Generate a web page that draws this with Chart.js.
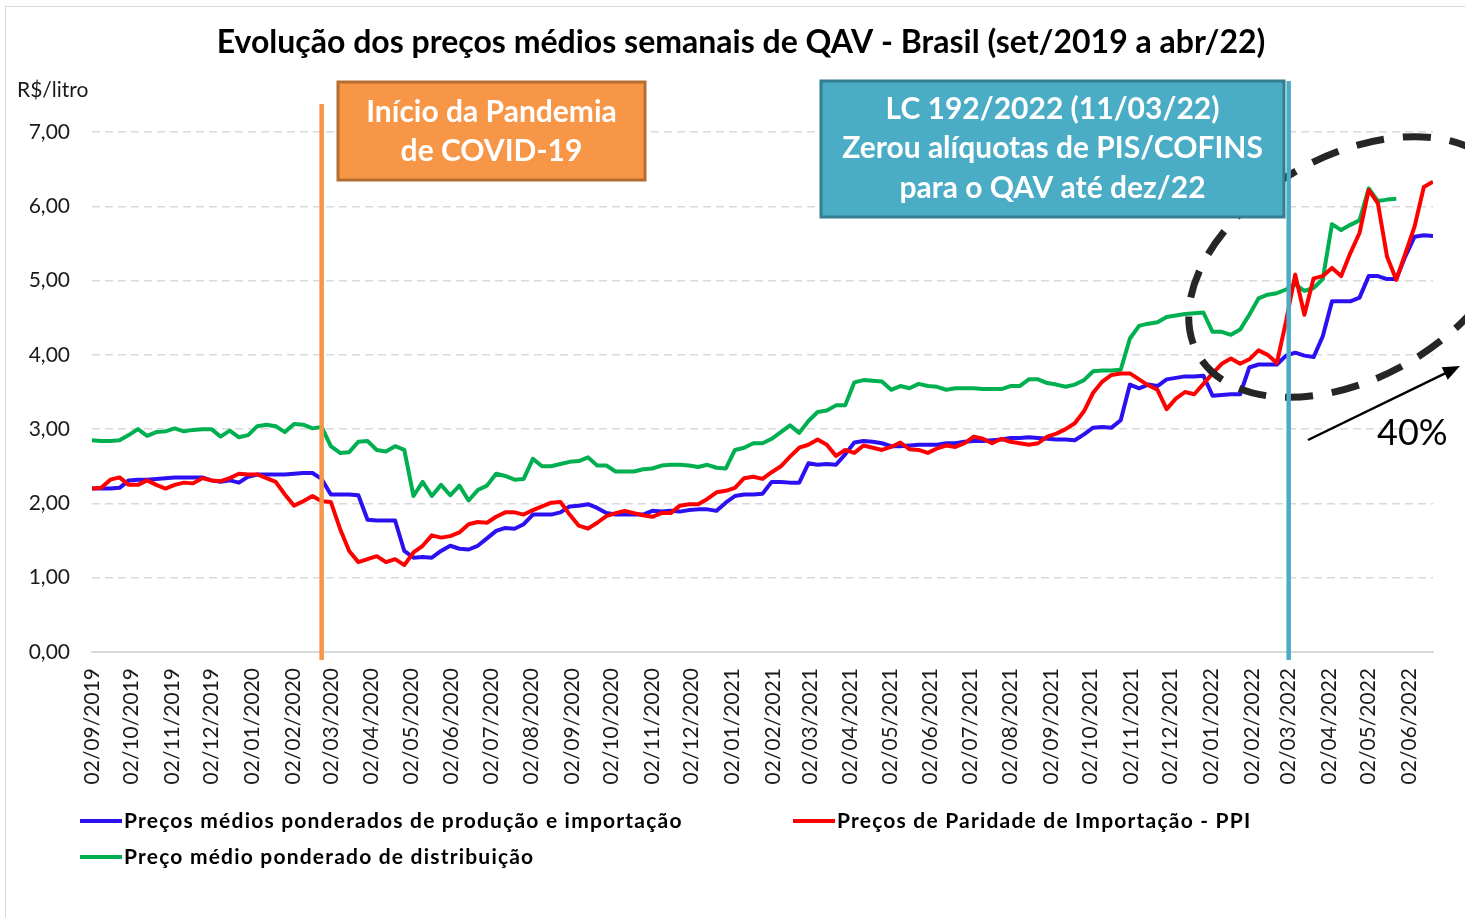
<!DOCTYPE html>
<html lang="pt-BR">
<head>
<meta charset="utf-8">
<title>Evolução dos preços médios semanais de QAV</title>
<script src="https://cdn.jsdelivr.net/npm/chart.js@4.4.0/dist/chart.umd.min.js"></script>
<style>
  html, body { margin: 0; padding: 0; background: #fff; }
  #quadro { position: relative; width: 1465px; height: 918px; }
</style>
</head>
<body>
<div id="quadro"><canvas id="grafico"></canvas></div>
<script>
// Séries semanais de preços do QAV (R$/litro), a partir da semana de 02/09/2019

const inicioSerie = '02/09/2019';

const titulo = 'Evolução dos preços médios semanais de QAV - Brasil (set/2019 a abr/22)';

const nomesSeries = [
    'Preços médios ponderados de produção e importação',
    'Preços de Paridade de Importação - PPI',
    'Preço médio ponderado de distribuição'
];

const precoProducaoImportacao = [
    2.20, 2.20, 2.20, 2.21, 2.31, 2.32, 2.32, 2.33, 2.34, 2.35,
    2.35, 2.35, 2.35, 2.31, 2.29, 2.31, 2.28, 2.36, 2.39, 2.39,
    2.39, 2.39, 2.40, 2.41, 2.41, 2.33, 2.12, 2.12, 2.12, 2.11,
    1.78, 1.77, 1.77, 1.77, 1.36, 1.27, 1.28, 1.27, 1.36, 1.43,
    1.39, 1.38, 1.43, 1.53, 1.63, 1.67, 1.66, 1.72, 1.85, 1.85,
    1.85, 1.88, 1.96, 1.97, 1.99, 1.94, 1.87, 1.85, 1.85, 1.85,
    1.85, 1.90, 1.89, 1.90, 1.89, 1.91, 1.92, 1.92, 1.90, 2.01,
    2.10, 2.12, 2.12, 2.13, 2.29, 2.29, 2.28, 2.28, 2.54, 2.52,
    2.53, 2.52, 2.66, 2.82, 2.84, 2.83, 2.81, 2.77, 2.77, 2.78,
    2.79, 2.79, 2.79, 2.81, 2.81, 2.83, 2.84, 2.84, 2.85, 2.86,
    2.88, 2.88, 2.89, 2.88, 2.87, 2.86, 2.86, 2.85, 2.93, 3.02,
    3.03, 3.02, 3.12, 3.60, 3.55, 3.60, 3.58, 3.67, 3.69, 3.71,
    3.71, 3.72, 3.45, 3.46, 3.47, 3.47, 3.83, 3.87, 3.87, 3.87,
    3.99, 4.03, 3.99, 3.97, 4.25, 4.72, 4.72, 4.72, 4.77, 5.06,
    5.06, 5.02, 5.02, 5.33, 5.59, 5.61, 5.60
];

const precoPPI = [
    2.20, 2.21, 2.32, 2.35, 2.25, 2.25, 2.31, 2.25, 2.20, 2.25,
    2.28, 2.27, 2.34, 2.31, 2.30, 2.34, 2.40, 2.39, 2.39, 2.34,
    2.29, 2.12, 1.97, 2.03, 2.10, 2.03, 2.02, 1.66, 1.36, 1.21,
    1.25, 1.29, 1.21, 1.25, 1.17, 1.34, 1.43, 1.57, 1.54, 1.56,
    1.61, 1.72, 1.75, 1.74, 1.82, 1.88, 1.88, 1.85, 1.91, 1.96,
    2.01, 2.02, 1.85, 1.70, 1.66, 1.74, 1.83, 1.87, 1.90, 1.87,
    1.84, 1.82, 1.87, 1.87, 1.97, 1.99, 1.99, 2.06, 2.15, 2.17,
    2.21, 2.34, 2.36, 2.33, 2.42, 2.50, 2.63, 2.75, 2.79, 2.86,
    2.79, 2.64, 2.72, 2.68, 2.78, 2.75, 2.72, 2.76, 2.82, 2.73,
    2.72, 2.68, 2.74, 2.78, 2.76, 2.81, 2.90, 2.87, 2.81, 2.87,
    2.83, 2.81, 2.79, 2.81, 2.90, 2.94, 3.00, 3.08, 3.24, 3.49,
    3.64, 3.73, 3.75, 3.75, 3.67, 3.59, 3.53, 3.27, 3.41, 3.50,
    3.47, 3.61, 3.75, 3.88, 3.95, 3.88, 3.94, 4.06, 4.00, 3.89,
    4.45, 5.08, 4.54, 5.03, 5.06, 5.17, 5.06, 5.37, 5.64, 6.22,
    6.04, 5.32, 5.01, 5.37, 5.73, 6.26, 6.33
];

const precoDistribuicao = [
    2.85, 2.84, 2.84, 2.85, 2.92, 3.00, 2.91, 2.96, 2.97, 3.01,
    2.97, 2.99, 3.00, 3.00, 2.90, 2.98, 2.89, 2.92, 3.04, 3.06,
    3.04, 2.96, 3.07, 3.06, 3.01, 3.03, 2.77, 2.68, 2.69, 2.83,
    2.84, 2.72, 2.70, 2.77, 2.72, 2.10, 2.29, 2.10, 2.25, 2.11,
    2.24, 2.04, 2.18, 2.24, 2.40, 2.37, 2.32, 2.33, 2.60, 2.50,
    2.50, 2.53, 2.56, 2.57, 2.62, 2.51, 2.51, 2.43, 2.43, 2.43,
    2.46, 2.47, 2.51, 2.52, 2.52, 2.51, 2.49, 2.52, 2.48, 2.47,
    2.72, 2.75, 2.81, 2.81, 2.87, 2.96, 3.05, 2.95, 3.11, 3.23,
    3.25, 3.32, 3.32, 3.63, 3.66, 3.65, 3.64, 3.53, 3.58, 3.55,
    3.61, 3.58, 3.57, 3.53, 3.55, 3.55, 3.55, 3.54, 3.54, 3.54,
    3.58, 3.58, 3.67, 3.67, 3.62, 3.60, 3.57, 3.60, 3.66, 3.78,
    3.79, 3.79, 3.80, 4.22, 4.39, 4.42, 4.44, 4.51, 4.53, 4.55,
    4.56, 4.57, 4.31, 4.31, 4.27, 4.34, 4.54, 4.76, 4.81, 4.83,
    4.88, 4.95, 4.86, 4.90, 5.02, 5.76, 5.68, 5.75, 5.81, 6.24,
    6.07, 6.09, 6.10
];

// Rótulos do eixo X (mensais)
const rotulosEixoX = [
    '02/09/2019', '02/10/2019', '02/11/2019', '02/12/2019',
    '02/01/2020', '02/02/2020', '02/03/2020', '02/04/2020', '02/05/2020', '02/06/2020',
    '02/07/2020', '02/08/2020', '02/09/2020', '02/10/2020', '02/11/2020', '02/12/2020',
    '02/01/2021', '02/02/2021', '02/03/2021', '02/04/2021', '02/05/2021', '02/06/2021',
    '02/07/2021', '02/08/2021', '02/09/2021', '02/10/2021', '02/11/2021', '02/12/2021',
    '02/01/2022', '02/02/2022', '02/03/2022', '02/04/2022', '02/05/2022', '02/06/2022'
];

// Marcos: início da pandemia e LC 192/2022
const marcos = ['24/02/2020', '02/03/2022'];

const fonte = 'Lato, "DejaVu Sans", sans-serif';

// Converte dd/mm/aaaa em número de semanas desde o início da série
function semanas(texto) {
    const [d, m, a] = texto.split('/').map(Number);
    const [d0, m0, a0] = inicioSerie.split('/').map(Number);
    return (Date.UTC(a, m - 1, d) - Date.UTC(a0, m0 - 1, d0)) / (7 * 86400000);
}

function pontos(serie) {
    return serie.map((v, i) => ({ x: i, y: v }));
}

const posicoesEixoX = rotulosEixoX.map(semanas);

// Anotações, título, legenda e moldura desenhados sobre o gráfico
const anotacoes = {
    id: 'anotacoes',
    afterDatasetsDraw(chart) {
        const { ctx, scales: { x } } = chart;
        ctx.save();

        // Elipse tracejada
        ctx.beginPath();
        ctx.ellipse(1352, 267, 177, 111, -0.518, 0, Math.PI * 2);
        ctx.setLineDash([28, 19]);
        ctx.lineWidth = 7;
        ctx.strokeStyle = '#262626';
        ctx.stroke();
        ctx.setLineDash([]);

        // Linhas verticais
        const xPandemia = x.getPixelForValue(semanas(marcos[0]));
        const xLei = x.getPixelForValue(semanas(marcos[1]));
        ctx.lineWidth = 4.5;
        ctx.strokeStyle = '#F79646';
        ctx.beginPath();
        ctx.moveTo(xPandemia, 104);
        ctx.lineTo(xPandemia, 660);
        ctx.stroke();
        ctx.strokeStyle = '#4BACC6';
        ctx.beginPath();
        ctx.moveTo(xLei, 81);
        ctx.lineTo(xLei, 660);
        ctx.stroke();

        // Caixas de texto
        desenharCaixa(ctx, 338, 82, 307, 98, '#F79646', '#B66D31',
            ['Início da Pandemia', 'de COVID-19'], [122, 161]);
        desenharCaixa(ctx, 821, 81, 463, 136, '#4BACC6', '#357D91',
            ['LC 192/2022 (11/03/22)', 'Zerou alíquotas de PIS/COFINS', 'para o QAV até dez/22'],
            [119, 158, 198]);

        // Seta e percentual
        ctx.strokeStyle = '#000';
        ctx.fillStyle = '#000';
        ctx.lineWidth = 2.5;
        const x1 = 1308, y1 = 440, x2 = 1460, y2 = 366;
        const ang = Math.atan2(y2 - y1, x2 - x1);
        ctx.beginPath();
        ctx.moveTo(x1, y1);
        ctx.lineTo(x2 - 12 * Math.cos(ang), y2 - 12 * Math.sin(ang));
        ctx.stroke();
        ctx.beginPath();
        ctx.moveTo(x2, y2);
        ctx.lineTo(x2 - 17 * Math.cos(ang) + 7 * Math.sin(ang), y2 - 17 * Math.sin(ang) - 7 * Math.cos(ang));
        ctx.lineTo(x2 - 17 * Math.cos(ang) - 7 * Math.sin(ang), y2 - 17 * Math.sin(ang) + 7 * Math.cos(ang));
        ctx.closePath();
        ctx.fill();
        ctx.font = '36px ' + fonte;
        ctx.textAlign = 'left';
        ctx.textBaseline = 'alphabetic';
        ctx.fillText('40%', 1377, 445);

        ctx.restore();
    },
    afterDraw(chart) {
        const { ctx } = chart;
        ctx.save();

        // Título
        ctx.fillStyle = '#000';
        ctx.font = 'bold 32px ' + fonte;
        ctx.textAlign = 'center';
        ctx.textBaseline = 'middle';
        ctx.fillText(titulo, 741, 43);

        // Unidade do eixo Y
        ctx.fillStyle = '#1a1a1a';
        ctx.font = '21px ' + fonte;
        ctx.textAlign = 'left';
        ctx.fillText('R$/litro', 17, 90);

        // Legenda
        const itens = [[80, 821], [793, 821], [80, 857]];
        ctx.font = 'bold 21px ' + fonte;
        ctx.letterSpacing = '1.2px';
        chart.data.datasets.forEach((ds, i) => {
            const [lx, ly] = itens[i];
            ctx.strokeStyle = ds.borderColor;
            ctx.lineWidth = 4;
            ctx.beginPath();
            ctx.moveTo(lx, ly);
            ctx.lineTo(lx + 42, ly);
            ctx.stroke();
            ctx.fillStyle = '#000';
            ctx.fillText(ds.label, lx + 44, ly);
        });
        ctx.letterSpacing = '0px';

        // Moldura
        ctx.strokeStyle = '#D9D9D9';
        ctx.lineWidth = 1;
        ctx.strokeRect(5.5, 6.5, 1470, 920);
        ctx.restore();
    }
};

function desenharCaixa(ctx, x, y, w, h, fundo, borda, linhas, bases) {
    ctx.fillStyle = fundo;
    ctx.fillRect(x, y, w, h);
    ctx.strokeStyle = borda;
    ctx.lineWidth = 3;
    ctx.strokeRect(x, y, w, h);
    ctx.fillStyle = '#fff';
    ctx.font = 'bold 30px ' + fonte;
    ctx.textAlign = 'center';
    ctx.textBaseline = 'alphabetic';
    linhas.forEach((t, i) => ctx.fillText(t, x + w / 2, bases[i]));
}

new Chart(document.getElementById('grafico'), {
    type: 'line',
    data: {
        datasets: [{
            label: nomesSeries[0],
            data: pontos(precoProducaoImportacao),
            borderColor: '#2B10F2',
            order: 1
        }, {
            label: nomesSeries[1],
            data: pontos(precoPPI),
            borderColor: '#FF0000',
            order: 0
        }, {
            label: nomesSeries[2],
            data: pontos(precoDistribuicao),
            borderColor: '#00B050',
            order: 2
        }]
    },
    options: {
        responsive: true,
        maintainAspectRatio: false,
        animation: false,
        datasets: {
            line: {
                borderWidth: 4,
                pointRadius: 0,
                tension: 0,
                borderJoinStyle: 'round',
                fill: false
            }
        },
        layout: {
            padding: { top: 132, right: 32, bottom: 0, left: 0 }
        },
        scales: {
            x: {
                type: 'linear',
                min: 0,
                max: precoPPI.length - 1,
                afterBuildTicks: (eixo) => {
                    eixo.ticks = posicoesEixoX.map(v => ({ value: v }));
                },
                afterFit: (eixo) => { eixo.height = 266; },
                grid: { display: false, drawTicks: false },
                border: { display: true, color: '#D9D9D9', width: 2 },
                ticks: {
                    autoSkip: false,
                    minRotation: 90,
                    maxRotation: 90,
                    padding: 16,
                    color: '#1a1a1a',
                    font: { family: fonte, size: 21 },
                    callback: (valor, indice) => rotulosEixoX[indice]
                }
            },
            y: {
                min: 0,
                max: 7,
                afterFit: (eixo) => { eixo.width = 92; },
                grid: { color: '#D9D9D9', lineWidth: 1.5, drawTicks: false },
                border: { display: false, dash: [8, 5] },
                ticks: {
                    stepSize: 1,
                    padding: 22,
                    color: '#1a1a1a',
                    font: { family: fonte, size: 21 },
                    callback: (v) => v.toFixed(2).replace('.', ',')
                }
            }
        },
        plugins: {
            legend: { display: false },
            tooltip: { enabled: false },
            title: { display: false }
        }
    },
    plugins: [anotacoes]
});
</script>
</body>
</html>
